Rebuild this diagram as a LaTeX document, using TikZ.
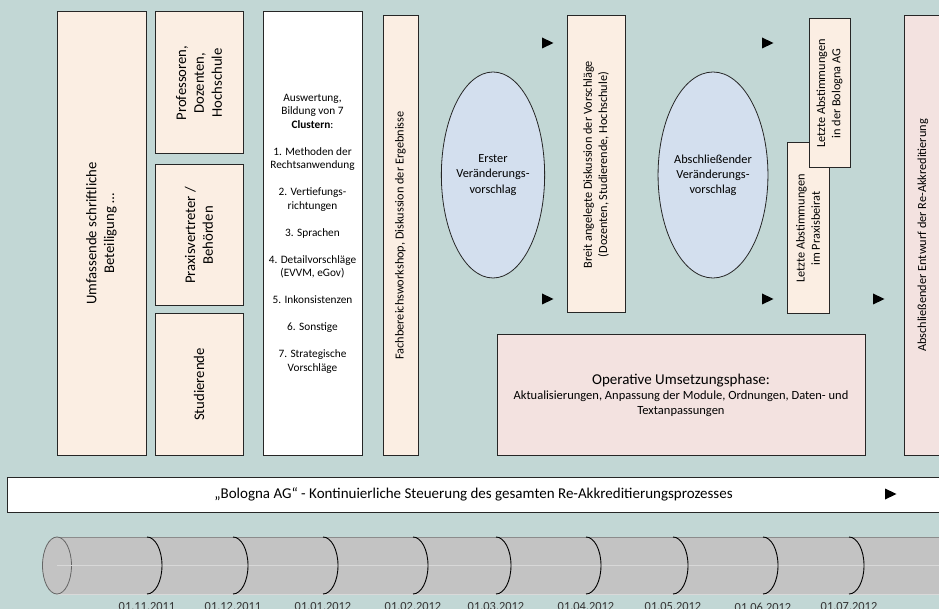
\documentclass[tikz,border=0pt]{standalone}
\usepackage{fontspec}
\setmainfont{Carlito}
\usepackage{tikz}
\usetikzlibrary{shapes.geometric}

\definecolor{bgteal}{RGB}{194,215,213}
\definecolor{peach}{RGB}{251,238,227}
\definecolor{rose}{RGB}{243,226,224}
\definecolor{paleblue}{RGB}{211,223,238}
\definecolor{tubegray}{RGB}{195,195,195}

\begin{document}
\begin{tikzpicture}[x=1pt,y=-1pt]
\tikzstyle{every node}+=[inner sep=0pt, align=center]
\tikzstyle{box}=[draw=black!85, line width=1pt, rectangle]
\tikzstyle{peachbox}=[box, fill=peach]
\tikzstyle{rosebox}=[box, fill=rose]
\tikzstyle{big}=[font=\fontsize{14.7}{17.8}\selectfont]
\tikzstyle{small}=[font=\fontsize{12.3}{15.2}\selectfont]
\tikzstyle{vorschlag}=[draw=black!85, line width=0.8pt, ellipse, fill=paleblue, minimum width=92pt, minimum height=206pt, small]
\useasboundingbox (0,0) rectangle (939,609);
\fill [bgteal] (0,0) rectangle (939,609);
\clip (0,0) rectangle (939,609);
\draw (101.5,233.5) node [peachbox, big, rotate=90, minimum width=443pt, minimum height=89pt] (umfassend) {Umfassende schriftliche\\Beteiligung \dots};
\draw (199,83) node [peachbox, big, rotate=90, minimum width=142pt, minimum height=88pt] (prof) {Professoren,\\Dozenten,\\Hochschule};
\draw (199,235.5) node [peachbox, big, rotate=90, minimum width=141pt, minimum height=88pt] (praxis) {Praxisvertreter /\\Behörden};
\draw (199,384.5) node [peachbox, big, rotate=90, minimum width=141pt, minimum height=88pt] (stud) {Studierende};
\draw (312.5,233.5) node [box, fill=white, font=\fontsize{11.3}{13.5}\selectfont, minimum width=99pt, minimum height=443pt] (cluster) {Auswertung,\\Bildung von 7\\\textbf{Clustern}:\\[13.5pt]1. Methoden der\\Rechtsanwendung\\[13.5pt]2. Vertiefungs-\\richtungen\\[13.5pt]3. Sprachen\\[13.5pt]4. Detailvorschläge\\(EVVM, eGov)\\[13.5pt]5. Inkonsistenzen\\[13.5pt]6. Sonstige\\[13.5pt]7. Strategische\\Vorschläge};
\draw (400.5,235.5) node [peachbox, small, rotate=90, minimum width=439pt, minimum height=35pt] (workshop) {Fachbereichsworkshop, Diskussion der Ergebnisse};
\draw (493,175) node [vorschlag] (erster) {Erster\\Veränderungs-\\vorschlag};
\draw (596,164.5) node [peachbox, small, rotate=90, minimum width=297pt, minimum height=58pt] (breit) {Breit angelegte Diskussion der Vorschläge\\(Dozenten, Studierende, Hochschule)};
\draw (713,175) node [vorschlag] (abschl) {Abschließender\\Veränderungs-\\vorschlag};
\draw (808,228.5) node [peachbox, small, rotate=90, minimum width=171pt, minimum height=42pt] (beirat) {Letzte Abstimmungen\\im Praxisbeirat};
\draw (829.5,93.5) node [peachbox, small, rotate=90, minimum width=149pt, minimum height=41pt] (bologna) {Letzte Abstimmungen\\in der Bologna AG};
\draw (681,395) node [rosebox, font=\fontsize{12.5}{15}\selectfont, minimum width=368pt, minimum height=120pt] (operativ) {{\fontsize{15}{17}\selectfont Operative Umsetzungsphase:}\\Aktualisierungen, Anpassung der Module, Ordnungen, Daten- und\\Textanpassungen};
\draw (923,235.5) node [rosebox, small, rotate=90, minimum width=439pt, minimum height=38pt] (entwurf) {Abschließender Entwurf der Re-Akkreditierung};
\draw (473.5,494.5) node [box, fill=white, font=\fontsize{15}{17}\selectfont, minimum width=933pt, minimum height=35pt] (steuerung) {„Bologna AG“ - Kontinuierliche Steuerung des gesamten Re-Akkreditierungsprozesses};
\foreach \x/\y in {542/43, 542/299, 762/43, 762/299, 873/299, 885/494}
  \fill [black] (\x,\y-5.5) -- (\x+11.5,\y) -- (\x,\y+5.5) -- cycle;
\fill [tubegray] (57,537) rectangle (945,594);
\draw [black!45, line width=0.8pt] (57,537) -- (945,537);
\draw [white!85!black, line width=1pt] (57,594) -- (945,594);
\draw [black!60, line width=0.8pt, fill=tubegray] (57,565.5) ellipse (14.5 and 28.5);
\draw [white!35!tubegray, line width=0.4pt] (57,565.5) -- (945,565.5);
\foreach \x/\d [count=\i] in {147/01.11.2011, 233/01.12.2011, 323/01.01.2012, 413/01.02.2012, 496/01.03.2012, 586/01.04.2012, 673/01.05.2012, 763/01.06.2012, 849/01.07.2012} {
  \draw [black, line width=0.9pt] (\x,537) arc [start angle=-90, end angle=90, x radius=15, y radius=28.5];
  \draw (\x,607) node [font=\fontsize{12.4}{14}\selectfont, text=black!80] (datum\i) {\d};
}
\end{tikzpicture}
\end{document}
